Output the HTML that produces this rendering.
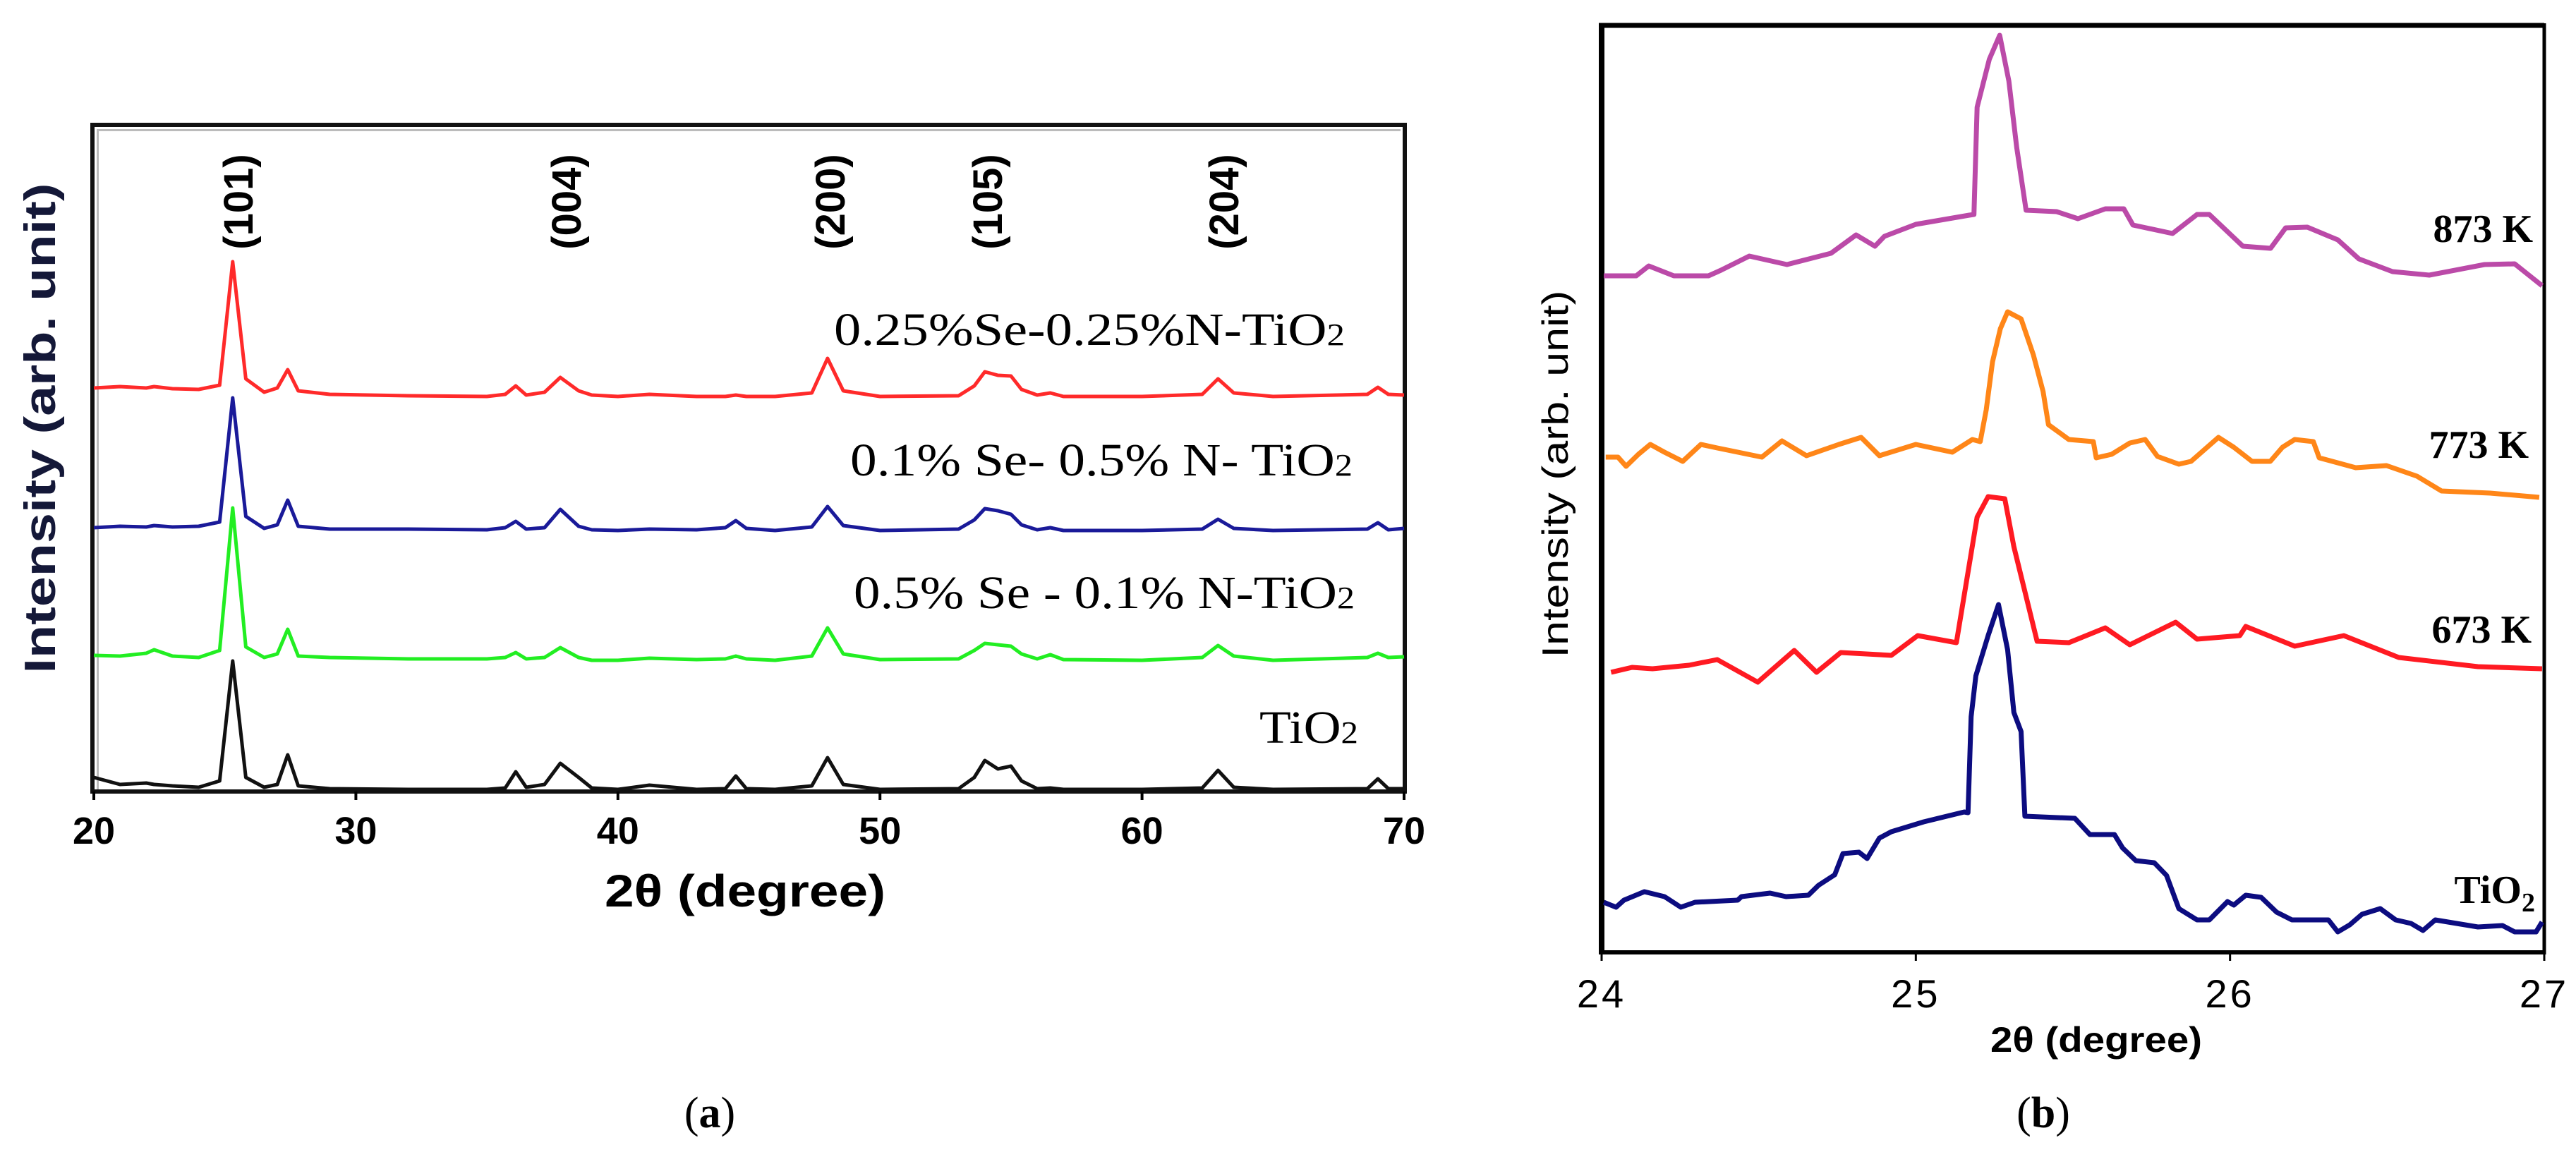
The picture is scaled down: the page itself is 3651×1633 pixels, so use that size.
<!DOCTYPE html>
<html><head><meta charset="utf-8"><style>
html,body{margin:0;padding:0;background:#fff;}
svg{display:block;}
text{font-family:"Liberation Sans",sans-serif;}
.serif{font-family:"Liberation Serif",serif;}
</style></head><body>
<svg id="fig" width="3651" height="1633" viewBox="0 0 3651 1633" xmlns="http://www.w3.org/2000/svg">
<rect x="0" y="0" width="3651" height="1633" fill="#fff"/>
<g id="panelA">
  <rect x="131" y="177" width="1860" height="945" fill="none" stroke="#111" stroke-width="6"/>
  <rect x="137" y="183" width="1848" height="3" fill="#bbb"/>
  <rect x="137" y="183" width="3" height="936" fill="#bbb"/>
  <g id="aTicks"></g>
  <g id="aSeries"></g>
  <text transform="translate(358,286) rotate(-90)" font-size="58" font-weight="bold" text-anchor="middle">(101)</text>
  <text transform="translate(823,286) rotate(-90)" font-size="58" font-weight="bold" text-anchor="middle">(004)</text>
  <text transform="translate(1197,286) rotate(-90)" font-size="58" font-weight="bold" text-anchor="middle">(200)</text>
  <text transform="translate(1420,286) rotate(-90)" font-size="58" font-weight="bold" text-anchor="middle">(105)</text>
  <text transform="translate(1755,286) rotate(-90)" font-size="58" font-weight="bold" text-anchor="middle">(204)</text>
  <text class="serif" x="1182" y="489" font-size="66" textLength="724" lengthAdjust="spacingAndGlyphs">0.25%Se-0.25%N-TiO<tspan font-size="44">2</tspan></text>
  <text class="serif" x="1205" y="674" font-size="66" textLength="712" lengthAdjust="spacingAndGlyphs">0.1% Se- 0.5% N- TiO<tspan font-size="44">2</tspan></text>
  <text class="serif" x="1210" y="862" font-size="66" textLength="710" lengthAdjust="spacingAndGlyphs">0.5% Se - 0.1% N-TiO<tspan font-size="44">2</tspan></text>
  <text class="serif" x="1785" y="1053" font-size="66" textLength="140" lengthAdjust="spacingAndGlyphs">TiO<tspan font-size="44">2</tspan></text>
  <text transform="translate(78,607) rotate(-90)" font-size="62" font-weight="bold" fill="#141838" text-anchor="middle" textLength="695" lengthAdjust="spacingAndGlyphs">Intensity (arb. unit)</text>
  <text x="1056" y="1285" font-size="64" font-weight="bold" text-anchor="middle" textLength="398" lengthAdjust="spacingAndGlyphs">2θ (degree)</text>
  <text class="serif" x="1006" y="1598" font-size="62" text-anchor="middle">(<tspan font-weight="bold">a</tspan>)</text>
</g>
<g id="panelB">
  <line x1="2266" y1="36" x2="3606" y2="36" stroke="#000" stroke-width="7"/>
  <line x1="2270" y1="33" x2="2270" y2="1353" stroke="#000" stroke-width="8"/>
  <line x1="2266" y1="1350" x2="3608" y2="1350" stroke="#000" stroke-width="6"/>
  <line x1="3606" y1="33" x2="3606" y2="1353" stroke="#000" stroke-width="5"/>
  <g id="bTicks"></g>
  <g id="bSeries"></g>
  <text class="serif" x="3590" y="343" font-size="56" font-weight="bold" text-anchor="end">873 K</text>
  <text class="serif" x="3584" y="649" font-size="56" font-weight="bold" text-anchor="end">773 K</text>
  <text class="serif" x="3588" y="911" font-size="56" font-weight="bold" text-anchor="end">673 K</text>
  <text class="serif" x="3593" y="1280" font-size="56" font-weight="bold" text-anchor="end">TiO<tspan font-size="38" dy="12">2</tspan></text>
  <text transform="translate(2222,672) rotate(-90)" font-size="52" text-anchor="middle" textLength="521" lengthAdjust="spacingAndGlyphs">Intensity (arb. unit)</text>
  <text x="2971" y="1491" font-size="50" font-weight="bold" text-anchor="middle" textLength="300" lengthAdjust="spacingAndGlyphs">2θ (degree)</text>
  <text class="serif" x="2896" y="1598" font-size="62" text-anchor="middle">(<tspan font-weight="bold">b</tspan>)</text>
</g>
</svg>
<script>
// ---------- Panel (a) data ----------
const aTickValues = [20, 30, 40, 50, 60, 70];
const aTickLabels = ["20", "30", "40", "50", "60", "70"];
const aTheta = [20,21,22,22.3,23,24,24.8,25.3,25.8,26.5,27,27.4,27.8,29,32,35,35.7,36.1,36.5,37.2,37.8,38.5,39,40,41.2,43,44.1,44.5,44.9,46,47.4,48,48.6,50,53,53.6,54,54.5,55,55.4,56,56.5,57,60,62.3,62.9,63.5,65,68.6,69,69.4,70];
const aRed = [572,574,572,574,571,570,576,751,585,566,572,598,568,563,561,560,563,575,562,566,587,568,562,560,563,560,560,562,560,560,565,614,568,560,561,575,595,590,589,570,562,565,560,560,563,585,565,560,563,573,563,562];
const aBlue = [374,376,375,377,375,376,382,558,390,373,378,413,376,372,372,371,374,383,372,374,400,376,371,370,372,371,374,384,373,370,375,404,377,370,372,385,401,398,393,378,371,374,370,370,372,386,373,370,372,381,371,373];
const aGreen = [193,192,196,201,192,190,200,402,205,190,195,230,192,190,188,188,190,197,188,190,204,190,186,186,189,187,188,192,188,186,192,232,195,187,188,200,210,208,206,195,188,194,187,186,190,207,192,186,190,196,190,191];
const aBlack = [20,10,12,10,8,6,15,185,20,6,10,52,8,4,3,3,5,28,6,10,40,20,5,3,9,3,4,22,4,3,8,48,10,3,4,20,44,32,36,15,4,5,3,3,5,30,6,3,4,18,4,4];

// ---------- Panel (b) data ----------
const bTickValues = [24, 25, 26, 27];
const bTickLabels = ["24", "25", "26", "27"];
const b873Theta = [24.007,24.11,24.15,24.23,24.34,24.38,24.47,24.59,24.73,24.81,24.87,24.90,25.00,25.17,25.185,25.195,25.234,25.267,25.296,25.321,25.351,25.448,25.516,25.603,25.662,25.691,25.817,25.895,25.934,26.041,26.129,26.177,26.246,26.343,26.41,26.517,26.634,26.81,26.906,26.993];
const b873 = [959,959,973,959,959,967,987,975,991,1017,1001,1015,1032,1045,1046,1198,1266,1300,1235,1141,1052,1050,1040,1054,1054,1031,1019,1046,1046,1001,998,1027,1028,1010,983,965,960,975,976,945];
const b773Theta = [24.013,24.052,24.078,24.117,24.155,24.2,24.258,24.316,24.368,24.51,24.574,24.652,24.755,24.826,24.884,25.0,25.116,25.18,25.205,25.224,25.244,25.269,25.292,25.335,25.374,25.405,25.422,25.487,25.565,25.574,25.623,25.681,25.73,25.769,25.837,25.876,25.963,26.012,26.07,26.128,26.167,26.206,26.265,26.284,26.4,26.498,26.595,26.673,26.828,26.984];
const b773 = [702,702,689,706,720,709,696,720,715,702,725,704,720,730,704,720,709,727,724,769,837,884,908,898,847,795,748,727,724,701,706,722,727,703,692,696,730,716,696,696,716,727,724,701,687,690,675,654,651,645];
const b673Theta = [24.03,24.097,24.162,24.278,24.368,24.497,24.613,24.684,24.761,24.922,25.006,25.129,25.195,25.23,25.283,25.312,25.386,25.487,25.603,25.681,25.827,25.895,26.031,26.05,26.206,26.362,26.537,26.789,26.993];
const b673 = [397,404,402,407,415,383,428,397,425,421,449,439,617,646,643,575,441,439,460,436,468,444,449,462,434,449,418,405,402];
const bTiO2Theta = [24.007,24.046,24.071,24.136,24.2,24.252,24.297,24.433,24.445,24.536,24.587,24.658,24.69,24.742,24.768,24.819,24.845,24.884,24.922,25.025,25.154,25.166,25.176,25.191,25.23,25.263,25.292,25.312,25.335,25.347,25.506,25.554,25.632,25.658,25.7,25.759,25.798,25.837,25.895,25.934,25.992,26.012,26.05,26.099,26.148,26.197,26.313,26.343,26.381,26.42,26.478,26.527,26.576,26.614,26.653,26.789,26.867,26.906,26.974,26.993];
const bTiO2 = [71,64,74,86,79,64,71,74,79,84,79,81,95,110,140,142,133,162,171,185,199,198,334,392,449,493,429,340,313,193,190,167,167,148,130,127,109,62,46,46,72,67,81,78,57,46,46,29,39,54,62,46,41,31,46,36,38,29,29,43];

const NS = "http://www.w3.org/2000/svg";
// Panel a axes
function axA_x(d){ return 133 + (d - 20) * (1990 - 133) / 50; }
function axA_y(v){ return 1122 - v; }
// Panel b axes
function axB_x(d){ return 2270 + (d - 24) * (3606 - 2270) / 3; }
function axB_y(v){ return 1350 - v; }

function pathFrom(xs, ys, fx, fy){
  let s = "";
  for (let i = 0; i < xs.length; i++){
    s += (i ? "L" : "M") + fx(xs[i]).toFixed(1) + "," + fy(ys[i]).toFixed(1);
  }
  return s;
}

const aG = document.getElementById("aSeries");
function addA(vals, color, name){
  const p = document.createElementNS(NS, "path");
  p.setAttribute("d", pathFrom(aTheta, vals, axA_x, axA_y));
  p.setAttribute("fill", "none");
  p.setAttribute("stroke", color);
  p.setAttribute("stroke-width", "5");
  p.setAttribute("stroke-linejoin", "round");
  
  
  aG.appendChild(p);
}
addA(aBlack, "#111", "series-tio2-a");
addA(aGreen, "#22ee22", "series-05se-01n");
addA(aBlue, "#1a1a99", "series-01se-05n");
addA(aRed, "#ff2a2a", "series-025se-025n");

const aT = document.getElementById("aTicks");
for (let i = 0; i < aTickValues.length; i++){
  const x = axA_x(aTickValues[i]);
  const l = document.createElementNS(NS, "line");
  l.setAttribute("x1", x); l.setAttribute("x2", x);
  l.setAttribute("y1", 1122); l.setAttribute("y2", 1134);
  l.setAttribute("stroke", "#000"); l.setAttribute("stroke-width", "4");
  
  
  aT.appendChild(l);
  const t = document.createElementNS(NS, "text");
  t.setAttribute("x", x); t.setAttribute("y", 1196);
  t.setAttribute("font-size", "54"); t.setAttribute("font-weight", "bold");
  t.setAttribute("text-anchor", "middle");
  t.textContent = aTickLabels[i];
  
  
  aT.appendChild(t);
}

const bG = document.getElementById("bSeries");
function addB(xs, vals, color, name){
  const p = document.createElementNS(NS, "path");
  p.setAttribute("d", pathFrom(xs, vals, axB_x, axB_y));
  p.setAttribute("fill", "none");
  p.setAttribute("stroke", color);
  p.setAttribute("stroke-width", "7");
  p.setAttribute("stroke-linejoin", "round");
  
  
  bG.appendChild(p);
}
addB(b873Theta, b873, "#bb4aa8", "series-873k");
addB(b773Theta, b773, "#ff8618", "series-773k");
addB(b673Theta, b673, "#ff1a22", "series-673k");
addB(bTiO2Theta, bTiO2, "#0c0c80", "series-tio2-b");

const bT = document.getElementById("bTicks");
for (let i = 0; i < bTickValues.length; i++){
  const x = axB_x(bTickValues[i]);
  const l = document.createElementNS(NS, "line");
  l.setAttribute("x1", x); l.setAttribute("x2", x);
  l.setAttribute("y1", 1350); l.setAttribute("y2", 1362);
  l.setAttribute("stroke", "#000"); l.setAttribute("stroke-width", "3");
  
  
  bT.appendChild(l);
  const t = document.createElementNS(NS, "text");
  t.setAttribute("x", x); t.setAttribute("y", 1428);
  t.setAttribute("font-size", "56");
  t.setAttribute("text-anchor", "middle");
  t.setAttribute("letter-spacing", "4");
  t.textContent = bTickLabels[i];
  
  
  bT.appendChild(t);
}
</script>
</body></html>
